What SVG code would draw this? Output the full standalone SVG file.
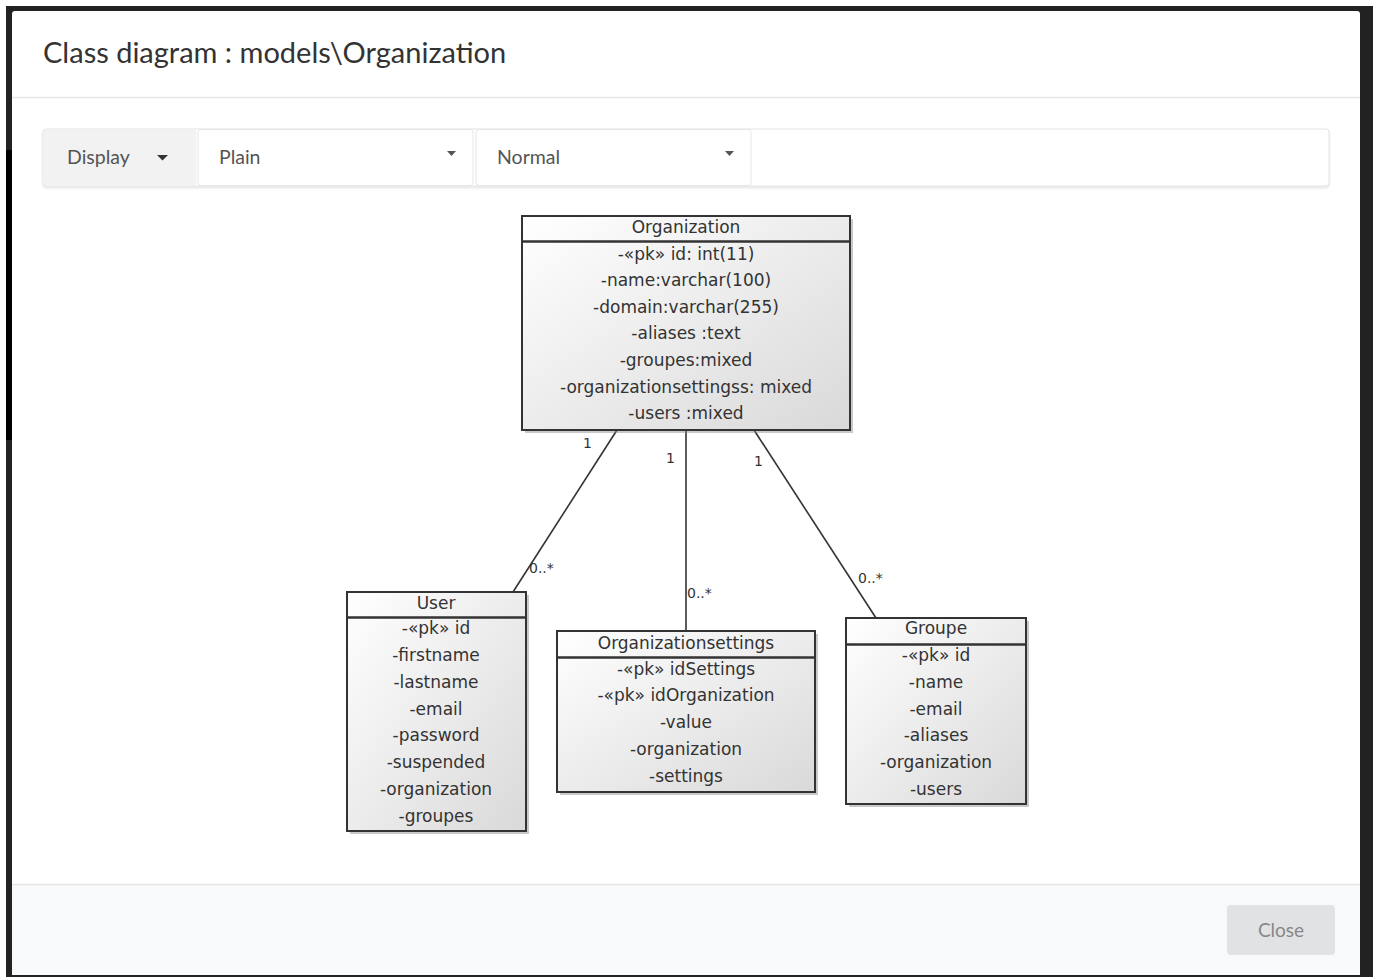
<svg xmlns="http://www.w3.org/2000/svg" width="1373" height="977" viewBox="0 0 1373 977">
<defs>
<linearGradient id="boxg" x1="0" y1="0" x2="1" y2="1">
<stop offset="0" stop-color="#ffffff"/>
<stop offset="1" stop-color="#d9d9d9"/>
</linearGradient>
<filter id="tbshadow" x="-5%" y="-20%" width="110%" height="150%">
<feDropShadow dx="0" dy="1.5" stdDeviation="1" flood-color="#000" flood-opacity="0.12"/>
</filter>
</defs>
<style>
.ui{font-family:Lato,"Open Sans","Liberation Sans",sans-serif}
.title{font-size:29px;fill:#333}
.tb{font-size:19.5px;fill:#555}
.box{fill:url(#boxg);stroke:#333;stroke-width:2}
.shadow{fill:#888;opacity:0.45}
.sep{stroke:#333;stroke-width:2.5}
.cls{font-family:"DejaVu Sans","Liberation Sans",sans-serif;font-size:17px;fill:#333;text-anchor:middle}
.lbl{font-family:"DejaVu Sans","Liberation Sans",sans-serif;font-size:14px;fill:#333}
.conn line{stroke:#333;stroke-width:1.6}
</style>
<rect x="0" y="0" width="1373" height="977" fill="#ffffff"/>
<rect x="6" y="6" width="1367" height="971" fill="#222"/>
<rect x="6" y="150" width="6" height="290" fill="#000"/>
<rect x="12" y="11" width="1348" height="964" rx="3" fill="#ffffff"/>
<rect x="12" y="884" width="1348" height="91" fill="#f8f9fa"/>
<line x1="12" y1="97.5" x2="1360" y2="97.5" stroke="#e5e5e5" stroke-width="1.5"/>
<line x1="12" y1="884.5" x2="1360" y2="884.5" stroke="#e5e5e5" stroke-width="1.5"/>
<text class="ui title" x="43" y="63">Class diagram : models\Organization</text>

<g id="toolbar">
<rect x="43" y="129" width="1286" height="57" rx="3" fill="#fff" stroke="#e3e3e3" filter="url(#tbshadow)"/>
<rect x="43.5" y="129.5" width="153" height="56" rx="3" fill="#f2f2f2"/>
<text class="ui tb" x="67" y="164">Display</text>
<path d="M157,155 h11 l-5.5,5.5 z" fill="#333"/>
<rect x="198" y="129.5" width="275" height="56" rx="3" fill="#fff" stroke="#e6e6e6"/>
<text class="ui tb" x="219" y="164">Plain</text>
<path d="M447,151 h9 l-4.5,5 z" fill="#555"/>
<rect x="476" y="129.5" width="275" height="56" rx="3" fill="#fff" stroke="#e6e6e6"/>
<text class="ui tb" x="497" y="164">Normal</text>
<path d="M725,151 h9 l-4.5,5 z" fill="#555"/>
</g>

<g id="connectors" class="conn">
<line x1="617" y1="430" x2="513" y2="592"/>
<line x1="686" y1="430" x2="686" y2="631"/>
<line x1="754" y1="430" x2="876" y2="618"/>
<text class="lbl" x="583" y="448">1</text>
<text class="lbl" x="529" y="573">0..*</text>
<text class="lbl" x="666" y="463">1</text>
<text class="lbl" x="687" y="598">0..*</text>
<text class="lbl" x="754" y="466">1</text>
<text class="lbl" x="858" y="583">0..*</text>
</g>

<g id="node-organization">
<rect class="shadow" x="525" y="219" width="328" height="214"/>
<rect class="box" x="522" y="216" width="328" height="214"/>
<line class="sep" x1="522" y1="241.5" x2="850" y2="241.5"/>
<text class="cls" x="686" y="233">Organization</text>
<text class="cls" x="686" y="260">-«pk» id: int(11)</text>
<text class="cls" x="686" y="286">-name:varchar(100)</text>
<text class="cls" x="686" y="313">-domain:varchar(255)</text>
<text class="cls" x="686" y="339">-aliases :text</text>
<text class="cls" x="686" y="366">-groupes:mixed</text>
<text class="cls" x="686" y="393">-organizationsettingss: mixed</text>
<text class="cls" x="686" y="419">-users :mixed</text>
</g>

<g id="node-user">
<rect class="shadow" x="350" y="595" width="179" height="239"/>
<rect class="box" x="347" y="592" width="179" height="239"/>
<line class="sep" x1="347" y1="617.5" x2="526" y2="617.5"/>
<text class="cls" x="436" y="609">User</text>
<text class="cls" x="436" y="634">-«pk» id</text>
<text class="cls" x="436" y="661">-firstname</text>
<text class="cls" x="436" y="688">-lastname</text>
<text class="cls" x="436" y="715">-email</text>
<text class="cls" x="436" y="741">-password</text>
<text class="cls" x="436" y="768">-suspended</text>
<text class="cls" x="436" y="795">-organization</text>
<text class="cls" x="436" y="822">-groupes</text>
</g>

<g id="node-organizationsettings">
<rect class="shadow" x="560" y="634" width="258" height="161"/>
<rect class="box" x="557" y="631" width="258" height="161"/>
<line class="sep" x1="557" y1="657.5" x2="815" y2="657.5"/>
<text class="cls" x="686" y="649">Organizationsettings</text>
<text class="cls" x="686" y="675">-«pk» idSettings</text>
<text class="cls" x="686" y="701">-«pk» idOrganization</text>
<text class="cls" x="686" y="728">-value</text>
<text class="cls" x="686" y="755">-organization</text>
<text class="cls" x="686" y="782">-settings</text>
</g>

<g id="node-groupe">
<rect class="shadow" x="849" y="621" width="180" height="186"/>
<rect class="box" x="846" y="618" width="180" height="186"/>
<line class="sep" x1="846" y1="644.5" x2="1026" y2="644.5"/>
<text class="cls" x="936" y="634">Groupe</text>
<text class="cls" x="936" y="661">-«pk» id</text>
<text class="cls" x="936" y="688">-name</text>
<text class="cls" x="936" y="715">-email</text>
<text class="cls" x="936" y="741">-aliases</text>
<text class="cls" x="936" y="768">-organization</text>
<text class="cls" x="936" y="795">-users</text>
</g>

<g id="close-button">
<rect x="1227" y="905" width="108" height="50" rx="4" fill="#e1e2e4"/>
<text class="ui" x="1281" y="937" font-size="19" fill="#888" text-anchor="middle">Close</text>
</g>
</svg>
